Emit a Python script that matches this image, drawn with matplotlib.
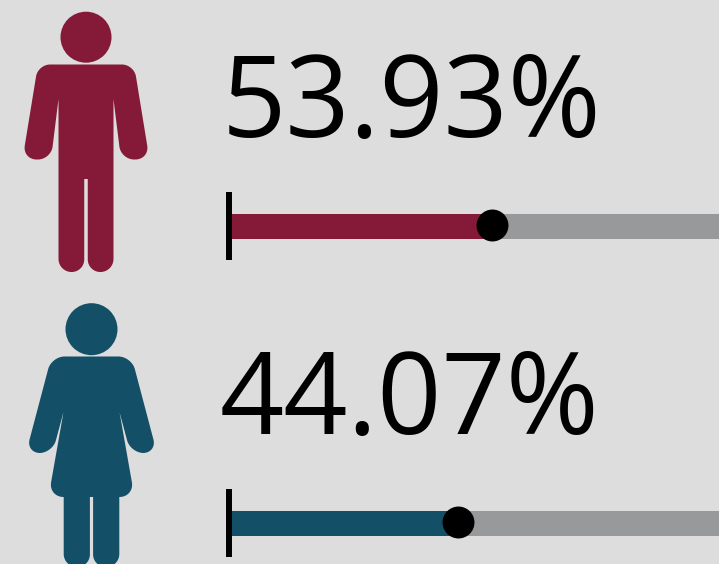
import matplotlib
matplotlib.use('Agg')
import matplotlib.pyplot as plt
from matplotlib.patches import Circle, PathPatch
from matplotlib.path import Path

groups = ['Men', 'Women']
shares = [53.93, 44.07]
# the second bar is drawn longer than its label says, this is what the picture shows
bar_values = [53.93, 47.1]
colors = ['#841a38', '#134f66']
track_color = '#98999b'
bg_color = '#dddddd'

# half outlines of the icons: (offset from centre, y, corner radius)
man_outline = [(0, 64.5, 0), (48, 64.5, 12), (63.5, 159.5, 14), (35, 159.5, 13), (27.5, 99, 0),
               (27.5, 272, 13), (1.75, 272, 12.5), (1.75, 179, 0)]
woman_outline = [(0, 356.5, 0), (40, 356.5, 13), (65.5, 453, 14), (39, 453, 13), (28, 412, 0),
                 (43, 497, 15), (27.8, 497, 0), (27.8, 567, 13), (1.6, 567, 12.5), (1.6, 497, 0)]

# bar scale
x_zero = 230
px_per_pct = 261.5 / 53.93

fig = plt.figure(figsize=(7.19, 5.64), dpi=100, facecolor=bg_color)
ax = fig.add_axes([0, 0, 1, 1])
ax.set_xlim(0, 719)
ax.set_ylim(564, 0)
ax.axis('off')


def rounded_path(points):
    # closed outline, every corner with a radius gets a bezier curve
    verts, codes = [], []
    n = len(points)
    for i, (x, y, r) in enumerate(points):
        if r == 0:
            verts.append((x, y))
            codes.append(Path.LINETO)
            continue
        px, py, _ = points[i - 1]
        nx, ny, _ = points[(i + 1) % n]
        d0 = ((px - x) ** 2 + (py - y) ** 2) ** 0.5
        d1 = ((nx - x) ** 2 + (ny - y) ** 2) ** 0.5
        a = (x + (px - x) * r / d0, y + (py - y) * r / d0)
        b = (x + (nx - x) * r / d1, y + (ny - y) * r / d1)
        c0 = (a[0] + (x - a[0]) * 0.55, a[1] + (y - a[1]) * 0.55)
        c1 = (b[0] + (x - b[0]) * 0.55, b[1] + (y - b[1]) * 0.55)
        verts += [a, c0, c1, b]
        codes += [Path.LINETO, Path.CURVE4, Path.CURVE4, Path.CURVE4]
    codes[0] = Path.MOVETO
    verts.append(verts[0])
    codes.append(Path.CLOSEPOLY)
    return Path(verts, codes)


def person(cx, head_y, head_r, outline, color):
    ax.add_patch(Circle((cx, head_y), head_r, fc=color, ec='none'))
    right = [(cx + dx, y, r) for dx, y, r in outline]
    left = [(cx - dx, y, r) for dx, y, r in reversed(outline) if dx != 0]
    ax.add_patch(PathPatch(rounded_path(right + left), fc=color, ec='none'))


person(86, 37.2, 25.5, man_outline, colors[0])
person(91.5, 329.2, 26, woman_outline, colors[1])

label_x = [222, 220]
label_y = [137, 434]
bar_y = [225.8, 522.8]
for share, value, color, lx, ly, by in zip(shares, bar_values, colors, label_x, label_y, bar_y):
    end = x_zero + value * px_per_pct
    ax.text(lx, ly, f'{share:.2f}%', fontsize=81, family='Open Sans', color='black',
            ha='left', va='baseline')
    ax.plot([x_zero, 719], [by, by], color=track_color, lw=18, solid_capstyle='butt')
    ax.plot([x_zero, end], [by, by], color=color, lw=18, solid_capstyle='butt')
    ax.plot([229, 229], [by - 34, by + 34.5], color='black', lw=4.3, solid_capstyle='butt')
    ax.plot([end], [by - 0.7], 'o', color='black', ms=23, mew=0)

fig.savefig('out.png', dpi=100, facecolor=bg_color)
